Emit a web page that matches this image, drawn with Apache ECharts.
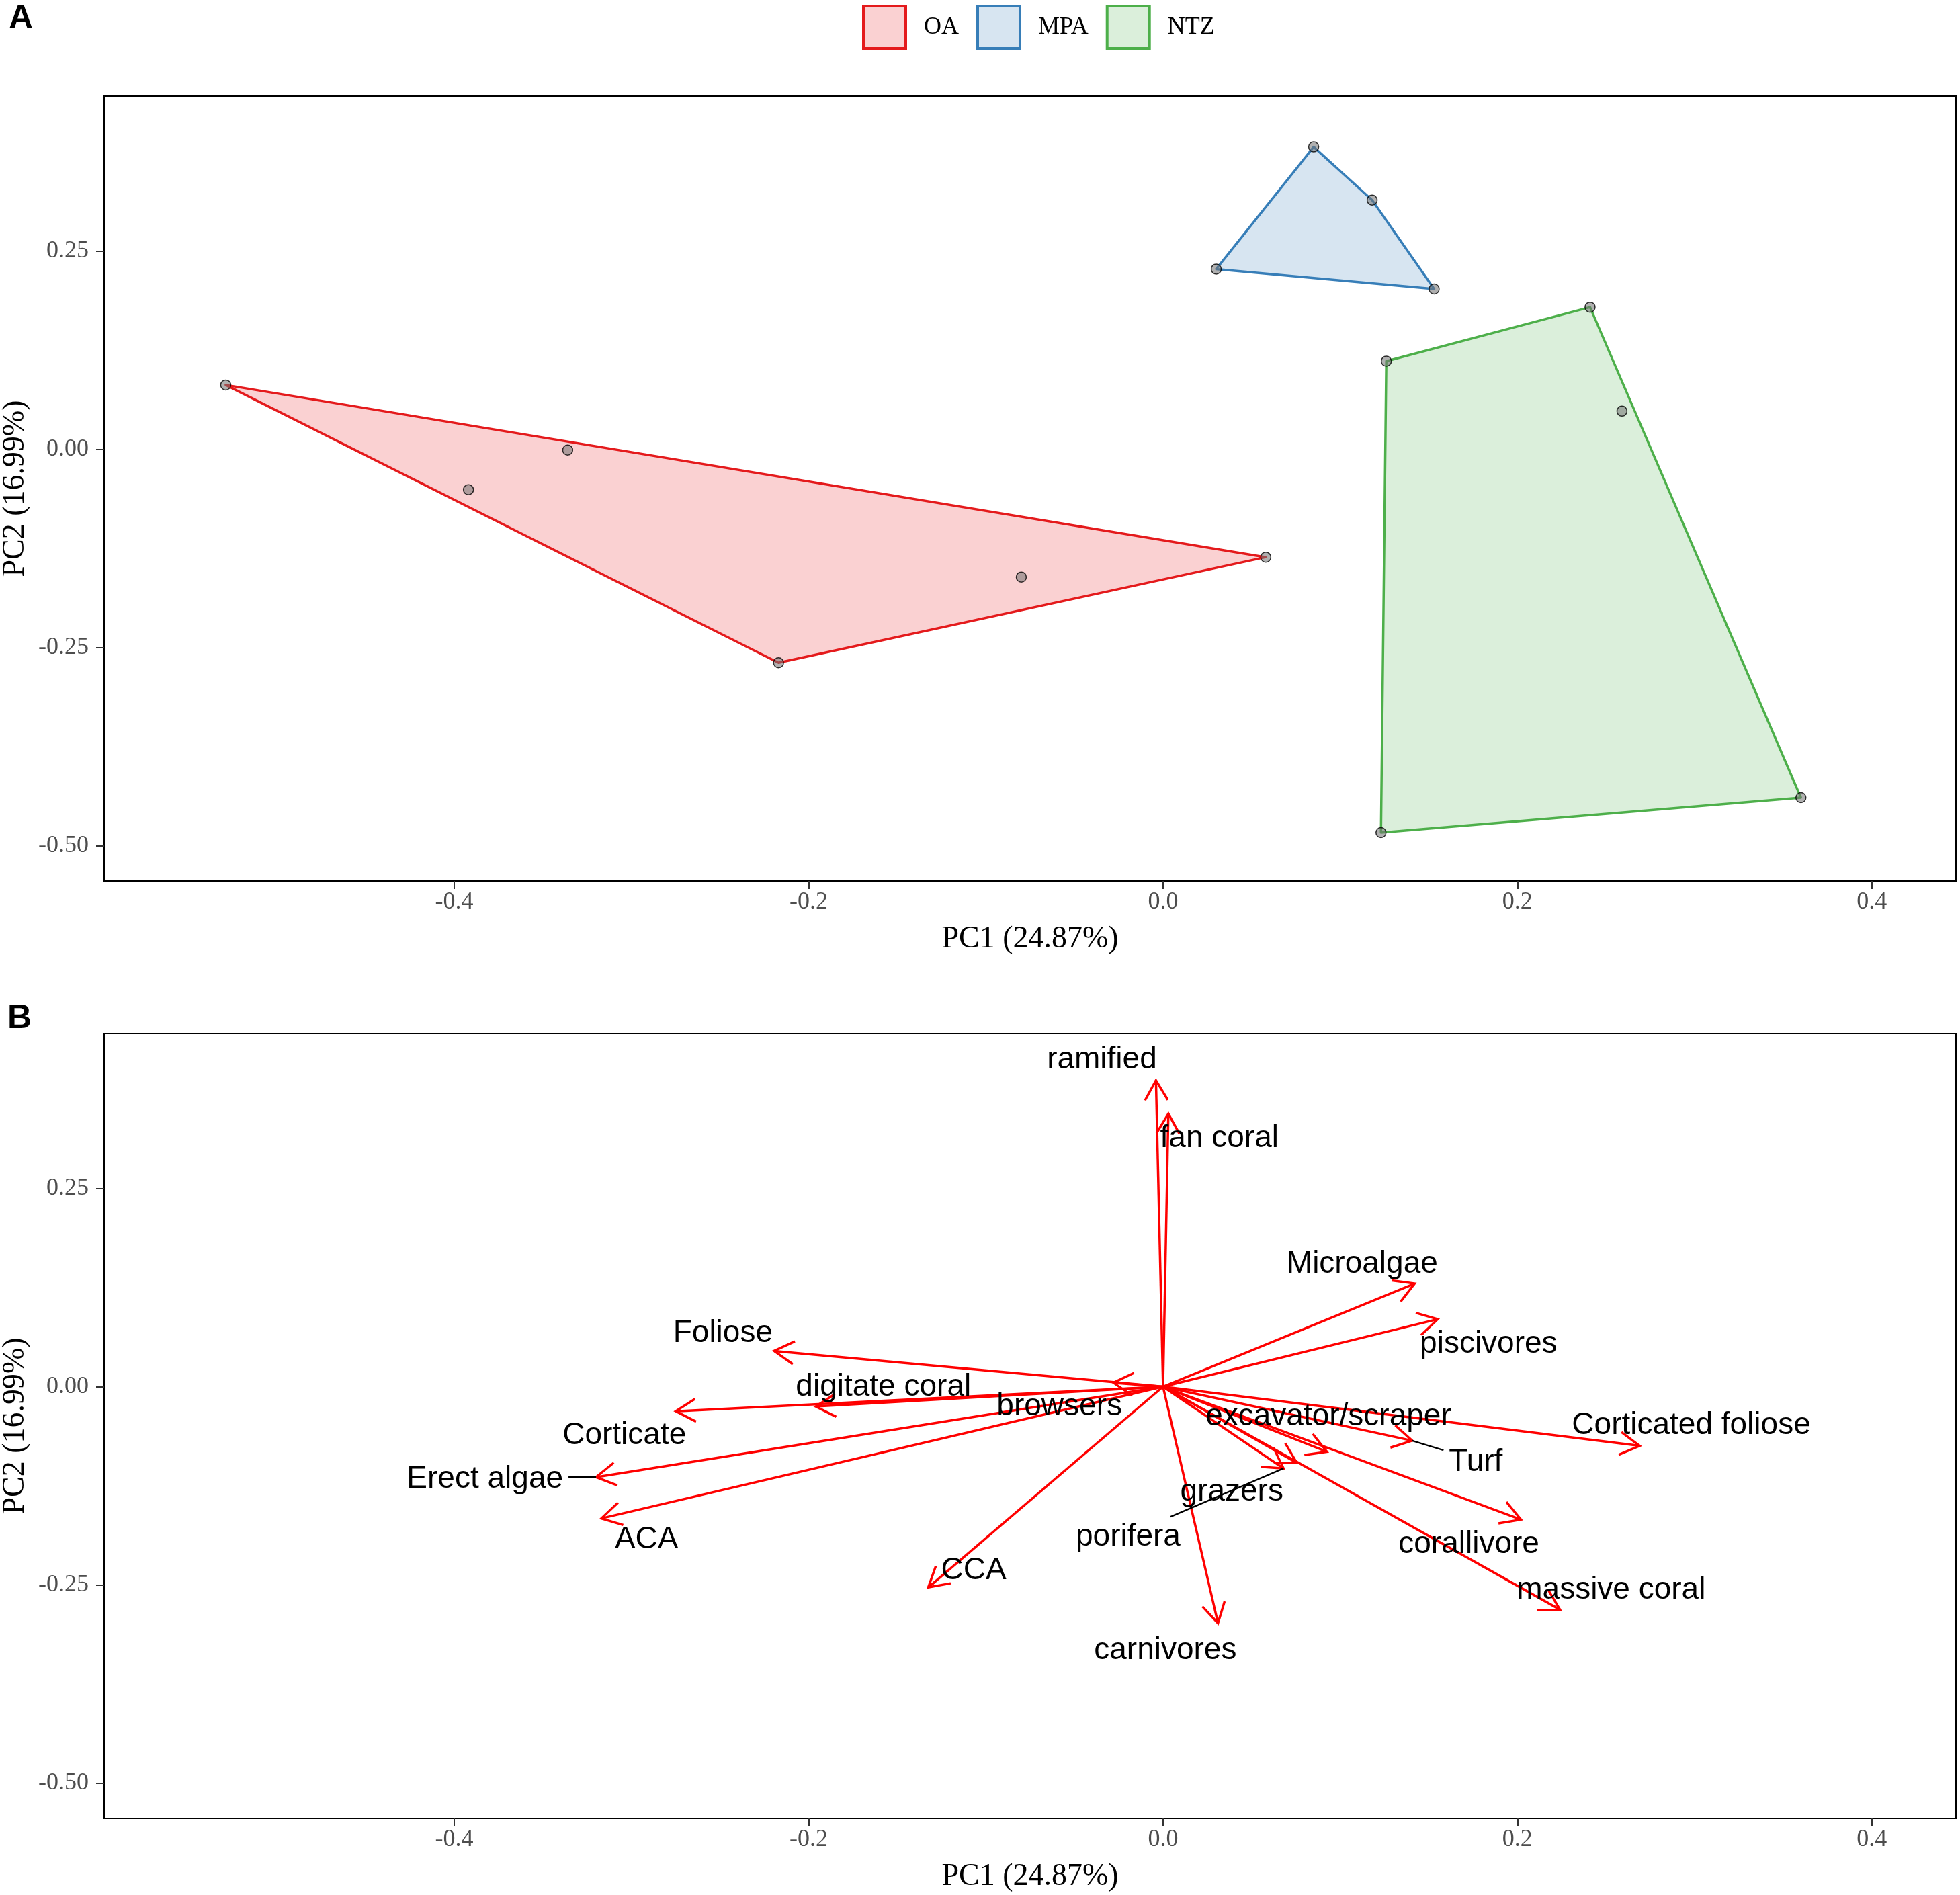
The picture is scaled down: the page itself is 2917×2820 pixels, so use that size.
<!DOCTYPE html>
<html>
<head>
<meta charset="utf-8">
<script src="https://cdn.jsdelivr.net/npm/echarts@6.0.0/dist/echarts.min.js"></script>
<style>
  html, body { margin: 0; padding: 0; background: #fff; }
  #chart { width: 2917px; height: 2820px; }
</style>
</head>
<body>
<div id="chart"></div>
<script>
// ---------------- DATA ----------------
// Panel A: site scores
const groupNames = ['OA', 'MPA', 'NTZ'];
const oaPC1  = [-0.529, -0.336, -0.392, -0.080, 0.058, -0.217];
const oaPC2  = [ 0.081, -0.001, -0.051, -0.161, -0.136, -0.269];
const mpaPC1 = [0.030, 0.085, 0.118, 0.153];
const mpaPC2 = [0.227, 0.381, 0.314, 0.202];
const ntzPC1 = [0.126, 0.241, 0.259, 0.360, 0.123];
const ntzPC2 = [0.111, 0.179, 0.048, -0.439, -0.483];

// Panel B: variable loadings (arrow tips) and label positions
const varNames = ['ramified', 'fan coral', 'Microalgae', 'piscivores', 'Foliose', 'browsers',
  'digitate coral', 'Corticate', 'Erect algae', 'ACA', 'CCA', 'carnivores', 'porifera',
  'grazers', 'excavator/scraper', 'Turf', 'Corticated foliose', 'corallivore', 'massive coral'];
const loadPC1 = [-0.004, 0.003, 0.142, 0.155, -0.2195, -0.028, -0.196, -0.275, -0.320, -0.317,
  -0.1325, 0.031, 0.068, 0.0755, 0.0925, 0.1406, 0.269, 0.202, 0.224];
const loadPC2 = [0.386, 0.344, 0.130, 0.085, 0.045, 0.005, -0.025, -0.031, -0.114, -0.166,
  -0.253, -0.298, -0.103, -0.096, -0.082, -0.068, -0.0745, -0.1675, -0.281];
const labelPC1 = [-0.0345, 0.0318, 0.1124, 0.1837, -0.2484, -0.0585, -0.1578, -0.304, -0.3827, -0.2915,
  -0.1069, 0.0013, -0.0197, 0.0388, 0.0933, 0.1765, 0.2981, 0.1726, 0.2529];
const labelPC2 = [0.414, 0.315, 0.157, 0.0563, 0.0699, -0.0228, 0.0018, -0.059, -0.114, -0.1905,
  -0.229, -0.330, -0.1867, -0.1302, -0.0355, -0.0926, -0.0465, -0.1962, -0.2542];
const segmentLabels = ['Erect algae', 'Turf', 'porifera'];

// Axes
const xTicks = [-0.4, -0.2, 0, 0.2, 0.4];
const yTicks = [-0.5, -0.25, 0, 0.25];
const xRange = [-0.5976, 0.4475];
const yRange = [-0.544, 0.445];
const xTitle = 'PC1 (24.87%)';
const yTitle = 'PC2 (16.99%)';

// ---------------- STYLE ----------------
const lineColors = { OA: '#E41A1C', MPA: '#377EB8', NTZ: '#4DAF4A' };
const fillColors = { OA: 'rgba(228,26,28,0.2)', MPA: 'rgba(55,126,184,0.2)', NTZ: 'rgba(77,175,74,0.2)' };
const legendFill = { OA: '#FAD1D2', MPA: '#D7E5F1', NTZ: '#DBEFDB' };
const groupData = {
  OA: [oaPC1, oaPC2], MPA: [mpaPC1, mpaPC2], NTZ: [ntzPC1, ntzPC2]
};

function convexHull(points) {
  const pts = points.slice().sort((a, b) => a[0] - b[0] || a[1] - b[1]);
  const cross = (o, a, b) => (a[0] - o[0]) * (b[1] - o[1]) - (a[1] - o[1]) * (b[0] - o[0]);
  const lower = [];
  for (const p of pts) {
    while (lower.length >= 2 && cross(lower[lower.length - 2], lower[lower.length - 1], p) <= 0) lower.pop();
    lower.push(p);
  }
  const upper = [];
  for (let i = pts.length - 1; i >= 0; i--) {
    const p = pts[i];
    while (upper.length >= 2 && cross(upper[upper.length - 2], upper[upper.length - 1], p) <= 0) upper.pop();
    upper.push(p);
  }
  upper.pop(); lower.pop();
  return lower.concat(upper);
}

const measureCtx = document.createElement('canvas').getContext('2d');
const LABEL_FONT_SIZE = 46;
const LABEL_DY = 3;
measureCtx.font = LABEL_FONT_SIZE + 'px "Liberation Sans"';

function axisPair(gi) {
  const x = {
    gridIndex: gi, type: 'value', min: xRange[0], max: xRange[1],
    splitLine: { show: false },
    axisLine: { show: true, onZero: false, lineStyle: { color: '#000', width: 2 } },
    axisTick: { show: true, length: 12, customValues: xTicks, lineStyle: { color: '#333', width: 2 } },
    axisLabel: { customValues: xTicks, formatter: v => v.toFixed(1), fontFamily: 'Liberation Serif',
      fontSize: 36, color: '#4D4D4D', margin: 14 },
    name: xTitle, nameLocation: 'middle', nameGap: 64,
    nameTextStyle: { fontFamily: 'Liberation Serif', fontSize: 46, color: '#000' }
  };
  const y = {
    gridIndex: gi, type: 'value', min: yRange[0], max: yRange[1],
    splitLine: { show: false },
    axisLine: { show: true, onZero: false, lineStyle: { color: '#000', width: 2 } },
    axisTick: { show: true, length: 12, customValues: yTicks, lineStyle: { color: '#333', width: 2 } },
    axisLabel: { customValues: yTicks, formatter: v => v.toFixed(2), fontFamily: 'Liberation Serif',
      fontSize: 36, color: '#4D4D4D', margin: 23 },
    name: yTitle, nameLocation: 'middle', nameGap: 106, nameRotate: 90,
    nameTextStyle: { fontFamily: 'Liberation Serif', fontSize: 46, color: '#000' }
  };
  return [x, y];
}
const [xa0, ya0] = axisPair(0);
const [xa1, ya1] = axisPair(1);

const series = [];
// polygons (hulls)
groupNames.forEach(g => {
  const [px, py] = groupData[g];
  const pts = px.map((x, i) => [x, py[i]]);
  series.push({
    type: 'custom', name: g, xAxisIndex: 0, yAxisIndex: 0, z: 2,
    itemStyle: { color: legendFill[g], borderColor: lineColors[g] },
    data: pts,
    renderItem: (params, api) => {
      if (params.dataIndex !== 0) return { type: 'group', children: [] };
      const hp = convexHull(pts).map(p => api.coord(p));
      return { type: 'polygon', shape: { points: hp },
        style: { fill: fillColors[g], stroke: lineColors[g], lineWidth: 3.5, lineJoin: 'round' } };
    }
  });
});
// points
groupNames.forEach(g => {
  const [px, py] = groupData[g];
  series.push({
    type: 'scatter', name: g + ' sites', xAxisIndex: 0, yAxisIndex: 0, z: 5,
    symbol: 'circle', symbolSize: 15,
    itemStyle: { color: 'rgba(115,115,115,0.7)', borderColor: '#000', borderWidth: 1.5 },
    data: px.map((x, i) => [x, py[i]])
  });
});
// arrows
series.push({
  type: 'custom', name: 'loadings', xAxisIndex: 1, yAxisIndex: 1, z: 3,
  data: loadPC1.map((x, i) => [x, loadPC2[i]]),
  renderItem: (params, api) => {
    const p0 = api.coord([0, 0]);
    const p1 = api.coord([api.value(0), api.value(1)]);
    const ang = Math.atan2(p1[1] - p0[1], p1[0] - p0[0]);
    const L = 34, a = Math.PI / 6;
    const h1 = [p1[0] - L * Math.cos(ang - a), p1[1] - L * Math.sin(ang - a)];
    const h2 = [p1[0] - L * Math.cos(ang + a), p1[1] - L * Math.sin(ang + a)];
    return { type: 'group', children: [
      { type: 'line', shape: { x1: p0[0], y1: p0[1], x2: p1[0], y2: p1[1] },
        style: { stroke: '#FF0000', lineWidth: 3.5 } },
      { type: 'polyline', shape: { points: [h1, p1, h2] },
        style: { stroke: '#FF0000', lineWidth: 3.5, fill: null } }
    ] };
  }
});
// labels
series.push({
  type: 'custom', name: 'labels', xAxisIndex: 1, yAxisIndex: 1, z: 6,
  data: varNames.map((n, i) => [labelPC1[i], labelPC2[i], loadPC1[i], loadPC2[i]]),
  renderItem: (params, api) => {
    const i = params.dataIndex;
    const name = varNames[i];
    const c = api.coord([api.value(0), api.value(1)]);
    const children = [];
    if (segmentLabels.indexOf(name) >= 0) {
      const t = api.coord([api.value(2), api.value(3)]);
      const hw = measureCtx.measureText(name).width / 2 + 8;
      const hh = LABEL_FONT_SIZE / 2 + 4;
      const dx = t[0] - c[0], dy = t[1] - c[1];
      const s = Math.min(dx !== 0 ? hw / Math.abs(dx) : Infinity, dy !== 0 ? hh / Math.abs(dy) : Infinity);
      const start = [c[0] + dx * s, c[1] + dy * s];
      children.push({ type: 'line', shape: { x1: start[0], y1: start[1], x2: t[0], y2: t[1] },
        style: { stroke: '#000', lineWidth: 2.5 } });
    }
    children.push({ type: 'text', x: c[0], y: c[1] + LABEL_DY,
      style: { text: name, fill: '#000', font: LABEL_FONT_SIZE + 'px "Liberation Sans"',
        align: 'center', verticalAlign: 'middle' } });
    return { type: 'group', children };
  }
});

const chart = echarts.init(document.getElementById('chart'), null, { renderer: 'canvas' });
chart.setOption({
  animation: false,
  backgroundColor: '#fff',
  title: [
    { text: 'A', left: 13, top: 3, padding: 0,
      textStyle: { fontFamily: 'Liberation Sans', fontWeight: 'bold', fontSize: 50, color: '#000' } },
    { text: 'B', left: 11, top: 1491, padding: 0,
      textStyle: { fontFamily: 'Liberation Sans', fontWeight: 'bold', fontSize: 50, color: '#000' } }
  ],
  legend: {
    left: 1283, top: 7, padding: 0, orient: 'horizontal',
    itemWidth: 63, itemHeight: 63, itemGap: 26, selectedMode: false, icon: 'rect',
    textStyle: { fontFamily: 'Liberation Serif', fontSize: 36, color: '#000', padding: [0, 0, 0, 22] },
    data: groupNames.map(g => ({ name: g, icon: 'rect',
      itemStyle: { color: legendFill[g], borderColor: lineColors[g], borderWidth: 4 } }))
  },
  grid: [
    { left: 155, top: 143, width: 2756, height: 1168, show: true, borderColor: '#000', borderWidth: 2,
      containLabel: false, outerBoundsMode: 'none' },
    { left: 155, top: 1538, width: 2756, height: 1168, show: true, borderColor: '#000', borderWidth: 2,
      containLabel: false, outerBoundsMode: 'none' }
  ],
  xAxis: [xa0, xa1],
  yAxis: [ya0, ya1],
  series
});
</script>
</body>
</html>
